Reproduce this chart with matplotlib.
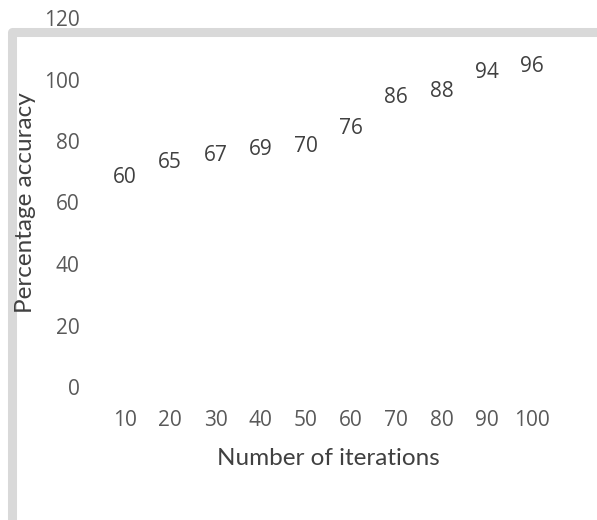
import matplotlib
matplotlib.use('Agg')
import matplotlib.pyplot as plt
from matplotlib.patches import Rectangle

# データ
iterations = [10, 20, 30, 40, 50, 60, 70, 80, 90, 100]
accuracy = [60, 65, 67, 69, 70, 76, 86, 88, 94, 96]
y_ticks = [0, 20, 40, 60, 80, 100, 120]

W, H = 597, 520
fig = plt.figure(figsize=(W / 100, H / 100), dpi=100)

# プロット領域（ピクセルで読み取った位置）
left, right, top, bottom = 102.4, 554.6, 18, 387
ax = fig.add_axes([left / W, 1 - bottom / H, (right - left) / W, (bottom - top) / H])

# 線もマーカーも見えない系列（ラベルだけ表示）
ax.plot(iterations, accuracy, linestyle='none', marker=None)
for x, y in zip(iterations, accuracy):
    ax.annotate(str(y), (x, y), xytext=(0, 18), textcoords='offset points',
                ha='center', va='center', fontsize=15, family='Open Sans',
                color='#404040')

ax.set_xlim(5, 105)
ax.set_ylim(0, 120)
ax.set_xticks(iterations)
ax.set_yticks(y_ticks)
ax.tick_params(length=0, pad=16.5, labelsize=15, labelcolor='#595959')
for lab in ax.get_xticklabels() + ax.get_yticklabels():
    lab.set_family('Open Sans')
for s in ax.spines.values():
    s.set_visible(False)
ax.patch.set_alpha(0)

# 軸タイトル
fig.text(328 / W, 1 - 465 / H, 'Number of iterations', ha='center', va='baseline',
         fontsize=17.5, family='Lato', color='#404040')
fig.text(26 / W, 1 - 203 / H, 'Percentage accuracy', ha='center', va='center',
         rotation=90, fontsize=17.5, family='Lato', color='#404040')

# グレーの枠線（右と下は画像外まで伸びる）
frame = Rectangle((11.5 / W, -0.5), 2.0, (1 - 31.5 / H) + 0.5, transform=fig.transFigure,
                  fill=False, edgecolor='#D9D9D9', linewidth=6.5, joinstyle='round',
                  zorder=-1)
fig.add_artist(frame)

fig.savefig('out.png', dpi=100)
